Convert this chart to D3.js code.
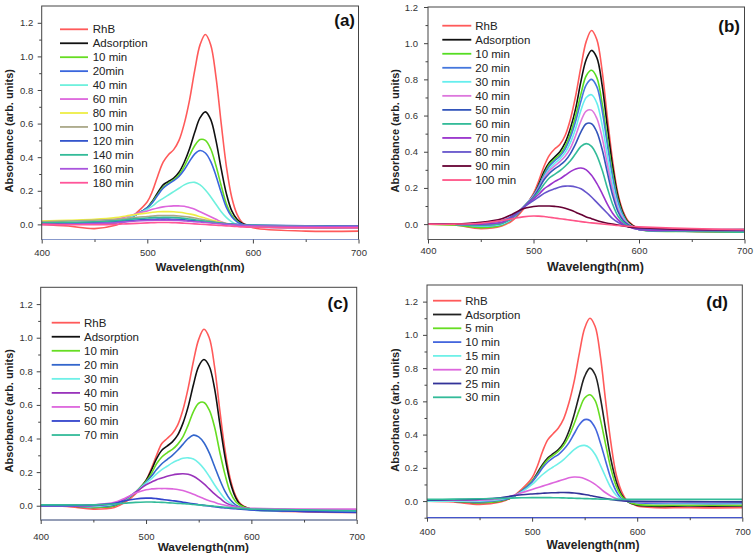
<!DOCTYPE html>
<html><head><meta charset="utf-8">
<script src="https://cdn.jsdelivr.net/npm/d3@7"></script>
<style>body{margin:0;background:#fff}svg{display:block}text{font-family:"Liberation Sans",Arial,sans-serif}</style>
</head><body><svg id="chart" width="756" height="560"></svg>
<script>
// Wavelength grid (nm)
const W = [400,425,450,470,480,490,500,505,510,515,520,525,530,535,540,545,550,555,560,565,570,575,580,585,590,600,650,700];
const xTicks = [400,500,600,700];
const xMinor = [450,550,650];
const yTicks = [0,0.2,0.4,0.6,0.8,1.0,1.2];
const yMinor = [-0.1,0.1,0.3,0.5,0.7,0.9,1.1];
const xTitle = "Wavelength(nm)";
const yTitle = "Absorbance (arb. units)";

// Panel (a)
const labelsA = ["RhB","Adsorption","10 min","20min","40 min","60 min","80 min","100 min","120 min","140 min","160 min","180 min"];
const seriesA = [
 [0.00,-0.01,-0.025,-0.005,0.02,0.07,0.135,0.20,0.29,0.37,0.415,0.445,0.50,0.60,0.74,0.92,1.07,1.13,1.07,0.88,0.60,0.34,0.16,0.06,0.01,-0.02,-0.04,-0.04],
 [0.005,0.005,0.005,0.01,0.03,0.06,0.10,0.14,0.19,0.235,0.255,0.275,0.31,0.37,0.45,0.55,0.635,0.67,0.625,0.50,0.33,0.18,0.08,0.03,0.005,-0.01,-0.02,-0.02],
 [0.005,0.005,0.005,0.01,0.03,0.06,0.10,0.135,0.18,0.22,0.245,0.265,0.295,0.345,0.41,0.47,0.505,0.50,0.45,0.35,0.23,0.12,0.055,0.02,0.0,-0.01,-0.015,-0.015],
 [0.005,0.005,0.005,0.01,0.03,0.06,0.10,0.13,0.175,0.215,0.24,0.26,0.285,0.325,0.375,0.42,0.44,0.425,0.375,0.29,0.19,0.10,0.045,0.015,0.0,-0.01,-0.015,-0.015],
 [0.005,0.005,0.01,0.02,0.035,0.06,0.09,0.11,0.135,0.155,0.175,0.195,0.215,0.235,0.248,0.25,0.235,0.205,0.165,0.12,0.075,0.04,0.015,0.0,-0.01,-0.015,-0.02,-0.02],
 [0.005,0.01,0.015,0.03,0.045,0.065,0.08,0.09,0.098,0.104,0.108,0.11,0.11,0.108,0.10,0.09,0.075,0.06,0.045,0.03,0.015,0.005,0.0,-0.005,-0.01,-0.015,-0.02,-0.02],
 [0.02,0.025,0.03,0.04,0.05,0.06,0.068,0.072,0.075,0.076,0.076,0.075,0.072,0.068,0.062,0.055,0.045,0.037,0.028,0.02,0.012,0.005,0.0,-0.003,-0.005,-0.008,-0.01,-0.01],
 [0.015,0.02,0.025,0.03,0.035,0.042,0.047,0.05,0.052,0.053,0.053,0.052,0.05,0.047,0.043,0.038,0.032,0.026,0.02,0.014,0.008,0.003,0.0,-0.003,-0.005,-0.008,-0.01,-0.01],
 [0.005,0.008,0.012,0.018,0.022,0.026,0.029,0.03,0.031,0.031,0.031,0.03,0.029,0.027,0.025,0.022,0.019,0.016,0.013,0.01,0.007,0.004,0.002,0.0,-0.002,-0.004,-0.008,-0.008],
 [0.01,0.012,0.016,0.022,0.028,0.034,0.038,0.04,0.041,0.042,0.042,0.041,0.039,0.036,0.032,0.028,0.023,0.018,0.014,0.01,0.006,0.002,0.0,-0.002,-0.004,-0.006,-0.01,-0.012],
 [0.0,0.0,0.005,0.01,0.015,0.02,0.023,0.024,0.025,0.025,0.025,0.024,0.023,0.021,0.019,0.016,0.014,0.011,0.008,0.005,0.003,0.0,-0.002,-0.004,-0.006,-0.008,-0.012,-0.012],
 [0.0,-0.002,-0.002,0.0,0.003,0.006,0.009,0.01,0.011,0.011,0.011,0.01,0.009,0.007,0.005,0.003,0.001,-0.001,-0.003,-0.005,-0.007,-0.009,-0.011,-0.013,-0.015,-0.017,-0.02,-0.02]
];
// Panel (b)
const labelsB = ["RhB","Adsorption","10 min","20 min","30 min","40 min","50 min","60 min","70 min","80 min","90 min","100 min"];
const seriesB = [
 [0.0,-0.005,-0.025,-0.01,0.02,0.08,0.17,0.24,0.32,0.38,0.415,0.44,0.49,0.58,0.71,0.87,1.01,1.07,1.02,0.85,0.59,0.35,0.17,0.07,0.015,-0.025,-0.04,-0.045],
 [0.0,0.0,-0.01,0.0,0.03,0.09,0.16,0.22,0.29,0.34,0.37,0.40,0.45,0.53,0.64,0.79,0.91,0.96,0.92,0.77,0.54,0.32,0.155,0.06,0.01,-0.025,-0.035,-0.04],
 [0.0,-0.005,-0.02,-0.005,0.03,0.09,0.16,0.21,0.275,0.33,0.36,0.385,0.43,0.50,0.60,0.72,0.82,0.85,0.81,0.67,0.47,0.28,0.135,0.05,0.005,-0.03,-0.04,-0.045],
 [0.0,0.0,-0.01,0.0,0.03,0.09,0.16,0.21,0.27,0.32,0.35,0.375,0.415,0.48,0.57,0.68,0.77,0.80,0.76,0.63,0.44,0.26,0.125,0.045,0.0,-0.03,-0.035,-0.035],
 [0.0,0.0,-0.01,0.0,0.03,0.09,0.155,0.20,0.26,0.305,0.335,0.36,0.395,0.45,0.53,0.63,0.70,0.715,0.67,0.55,0.38,0.22,0.10,0.035,0.0,-0.03,-0.035,-0.035],
 [0.0,0.0,-0.005,0.005,0.035,0.09,0.155,0.20,0.255,0.295,0.32,0.345,0.375,0.42,0.49,0.57,0.625,0.63,0.585,0.48,0.33,0.19,0.085,0.03,0.0,-0.03,-0.035,-0.035],
 [0.0,0.0,-0.005,0.005,0.035,0.09,0.15,0.195,0.245,0.28,0.305,0.325,0.35,0.39,0.445,0.51,0.555,0.555,0.51,0.415,0.285,0.16,0.07,0.02,-0.005,-0.03,-0.035,-0.035],
 [0.0,0.0,-0.005,0.005,0.035,0.09,0.145,0.18,0.22,0.255,0.275,0.295,0.32,0.35,0.39,0.43,0.445,0.43,0.38,0.30,0.20,0.11,0.045,0.01,-0.01,-0.03,-0.04,-0.045],
 [0.0,0.0,0.0,0.01,0.04,0.09,0.14,0.165,0.195,0.215,0.235,0.25,0.27,0.29,0.305,0.31,0.30,0.27,0.225,0.17,0.11,0.06,0.025,0.0,-0.015,-0.03,-0.035,-0.035],
 [0.0,0.0,0.005,0.02,0.045,0.09,0.13,0.15,0.17,0.185,0.195,0.205,0.21,0.21,0.205,0.195,0.175,0.15,0.12,0.09,0.06,0.03,0.01,-0.005,-0.015,-0.025,-0.03,-0.03],
 [0.0,0.0,0.01,0.03,0.055,0.085,0.097,0.1,0.1,0.1,0.098,0.095,0.088,0.078,0.066,0.053,0.04,0.03,0.02,0.012,0.005,0.0,-0.005,-0.01,-0.015,-0.02,-0.03,-0.03],
 [0.0,0.0,0.005,0.02,0.03,0.04,0.045,0.044,0.042,0.038,0.034,0.03,0.026,0.022,0.018,0.014,0.01,0.007,0.004,0.001,-0.002,-0.005,-0.008,-0.01,-0.012,-0.015,-0.025,-0.03]
];
// Panel (c)
const labelsC = ["RhB","Adsorption","10 min","20 min","30 min","40 min","50 min","60 min","70 min"];
const seriesC = [
 [0.0,-0.005,-0.02,-0.01,0.02,0.07,0.15,0.22,0.30,0.37,0.40,0.43,0.48,0.57,0.70,0.86,0.99,1.05,1.0,0.83,0.57,0.33,0.16,0.06,0.01,-0.02,-0.035,-0.04],
 [0.0,0.0,-0.01,0.0,0.03,0.08,0.15,0.21,0.28,0.33,0.355,0.38,0.42,0.49,0.59,0.72,0.83,0.87,0.83,0.70,0.49,0.29,0.14,0.05,0.005,-0.02,-0.03,-0.035],
 [0.0,0.0,-0.01,0.0,0.03,0.08,0.145,0.19,0.25,0.29,0.315,0.335,0.365,0.41,0.48,0.56,0.61,0.615,0.57,0.47,0.32,0.185,0.08,0.025,0.0,-0.02,-0.03,-0.03],
 [0.0,0.0,-0.005,0.005,0.035,0.08,0.14,0.175,0.215,0.25,0.275,0.30,0.33,0.365,0.40,0.42,0.41,0.375,0.315,0.235,0.155,0.085,0.035,0.005,-0.01,-0.025,-0.03,-0.035],
 [0.0,0.0,-0.005,0.01,0.035,0.08,0.135,0.16,0.19,0.215,0.235,0.255,0.27,0.282,0.285,0.278,0.255,0.22,0.175,0.125,0.08,0.04,0.015,-0.005,-0.015,-0.025,-0.03,-0.03],
 [0.0,0.0,0.0,0.015,0.04,0.08,0.125,0.14,0.155,0.165,0.175,0.183,0.188,0.19,0.187,0.175,0.155,0.13,0.10,0.07,0.045,0.02,0.005,-0.005,-0.012,-0.02,-0.025,-0.025],
 [0.0,0.0,0.005,0.02,0.045,0.075,0.095,0.1,0.102,0.102,0.102,0.10,0.097,0.09,0.08,0.068,0.055,0.042,0.03,0.02,0.01,0.003,-0.003,-0.008,-0.012,-0.015,-0.02,-0.02],
 [0.0,0.0,0.005,0.015,0.03,0.04,0.045,0.045,0.042,0.038,0.034,0.03,0.026,0.021,0.016,0.011,0.006,0.002,-0.002,-0.006,-0.01,-0.013,-0.016,-0.018,-0.02,-0.025,-0.035,-0.04],
 [0.005,0.005,0.005,0.01,0.015,0.02,0.022,0.022,0.021,0.02,0.018,0.016,0.014,0.012,0.01,0.007,0.005,0.002,0.0,-0.003,-0.006,-0.009,-0.012,-0.014,-0.016,-0.02,-0.025,-0.03]
];
// Panel (d)
const labelsD = ["RhB","Adsorption","5 min","10 min","15 min","20 min","25 min","30 min"];
const seriesD = [
 [0.0,-0.005,-0.02,-0.005,0.02,0.07,0.14,0.21,0.30,0.37,0.405,0.44,0.495,0.59,0.72,0.89,1.04,1.10,1.05,0.87,0.60,0.35,0.16,0.06,0.005,-0.03,-0.04,-0.04],
 [0.0,0.0,-0.01,0.0,0.02,0.06,0.12,0.17,0.22,0.26,0.285,0.31,0.35,0.42,0.52,0.64,0.75,0.80,0.76,0.62,0.43,0.25,0.12,0.04,0.0,-0.025,-0.03,-0.03],
 [0.0,0.0,-0.01,0.0,0.02,0.06,0.12,0.16,0.21,0.25,0.275,0.30,0.335,0.39,0.465,0.55,0.62,0.64,0.605,0.49,0.34,0.195,0.09,0.03,0.0,-0.02,-0.025,-0.025],
 [0.0,0.0,-0.005,0.005,0.02,0.06,0.115,0.155,0.20,0.235,0.26,0.28,0.31,0.35,0.405,0.46,0.49,0.485,0.44,0.35,0.24,0.135,0.06,0.015,0.0,-0.01,-0.015,-0.015],
 [0.0,0.0,0.0,0.01,0.025,0.055,0.10,0.13,0.16,0.185,0.205,0.225,0.25,0.28,0.31,0.33,0.335,0.32,0.28,0.215,0.145,0.08,0.035,0.01,0.0,-0.005,-0.01,-0.01],
 [0.005,0.005,0.005,0.015,0.03,0.05,0.07,0.08,0.09,0.10,0.11,0.12,0.13,0.14,0.145,0.143,0.135,0.12,0.10,0.075,0.05,0.03,0.015,0.005,0.0,-0.003,-0.005,-0.005],
 [0.005,0.008,0.012,0.02,0.03,0.038,0.043,0.045,0.047,0.049,0.05,0.051,0.052,0.051,0.049,0.045,0.04,0.034,0.028,0.021,0.015,0.01,0.005,0.002,0.0,-0.002,-0.003,-0.005],
 [0.01,0.012,0.014,0.016,0.018,0.02,0.021,0.021,0.021,0.021,0.02,0.02,0.019,0.018,0.017,0.016,0.015,0.014,0.013,0.012,0.011,0.01,0.01,0.01,0.01,0.01,0.01,0.01]
];

// Styles
const colorsA = ["#ff5a5a","#111111","#66dd22","#3a66dd","#6ff0dd","#dd66dd","#eeee44","#aaa888","#3355cc","#33bb99","#aa55dd","#ff5599"];
const colorsB = ["#ff5a5a","#111111","#55dd22","#4477dd","#66eeee","#dd77dd","#3355bb","#33bb99","#9933cc","#6655cc","#660033","#ff5588"];
const colorsC = ["#ff5a5a","#111111","#66dd22","#3366cc","#6ff0e8","#9933bb","#dd66dd","#3344cc","#33bb99"];
const colorsD = ["#ff5a5a","#222222","#66dd22","#4466dd","#6ff0e8","#dd66dd","#333399","#33bb99"];

const panels = [
 {tag:"(a)", labels:labelsA, series:seriesA, colors:colorsA, box:[41.7,6,358.5,239.5], ydom:[-0.09,1.30],
  xpad:5.7, ypad:4.4, tagPos:[355,26], leg:[60,88,92.7,29.3,13.95], xt:[200,270.7,11.5], yt:[9.3,130.8], bottomCol:"#8899cc"},
 {tag:"(b)", labels:labelsB, series:seriesB, colors:colorsB, box:[428,7,744.5,239.5], ydom:[-0.085,1.2],
  xpad:3.7, ypad:6, tagPos:[740,31.5], leg:[442.3,471.3,475.3,25.7,14.03], xt:[595.5,270.7,12.5], yt:[395.3,130.8], bottomCol:"#555"},
 {tag:"(c)", labels:labelsC, series:seriesC, colors:colorsC, box:[40.7,287.3,356.7,520], ydom:[-0.085,1.3],
  xpad:9.7, ypad:4, tagPos:[348.3,308.5], leg:[51.7,80,84,322.7,14.04], xt:[203.3,550.7,11.8], yt:[9.3,410.8], bottomCol:"#8899cc"},
 {tag:"(d)", labels:labelsD, series:seriesD, colors:colorsD, box:[427,285,742.3,517.7], ydom:[-0.1,1.3],
  xpad:6.3, ypad:5, tagPos:[728,307.5], leg:[433,461.3,465.3,300.7,13.8], xt:[593,549,12], yt:[394.7,410], bottomCol:"#4455cc"}
];

const svg = d3.select("#chart");
panels.forEach((p, pi) => {
  const [x0,y0,x1,y1] = p.box;
  const x = d3.scaleLinear().domain([400,700]).range([x0,x1]);
  const y = d3.scaleLinear().domain(p.ydom).range([y1,y0]);
  const g = svg.append("g");
  const cid = "clip" + pi;
  svg.append("defs").append("clipPath").attr("id", cid)
    .append("rect").attr("x", x0).attr("y", y0).attr("width", x1-x0).attr("height", y1-y0);

  const line = d3.line().x((d,i)=>x(W[i])).y(d=>y(d)).curve(d3.curveCatmullRom.alpha(0.5));
  const lines = g.append("g").attr("clip-path", `url(#${cid})`);
  p.series.forEach((s, si) => {
    lines.append("path").attr("d", line(s)).attr("fill","none")
      .attr("stroke", p.colors[si]).attr("stroke-width", 1.6);
  });

  // frame
  g.append("rect").attr("x",x0).attr("y",y0).attr("width",x1-x0).attr("height",y1-y0)
    .attr("fill","none").attr("stroke","#444").attr("stroke-width",1);
  g.append("line").attr("x1",x0).attr("x2",x1).attr("y1",y1).attr("y2",y1)
    .attr("stroke",p.bottomCol).attr("stroke-width",1.2);

  // axes
  g.append("g").attr("transform",`translate(0,${y1})`)
    .call(d3.axisBottom(x).tickValues(xTicks).tickSize(4).tickPadding(p.xpad).tickFormat(d3.format("d")));
  g.append("g").attr("transform",`translate(0,${y1})`)
    .call(d3.axisBottom(x).tickValues(xMinor).tickSize(2.5).tickFormat(""));
  g.append("g").attr("transform",`translate(${x0},0)`)
    .call(d3.axisLeft(y).tickValues(yTicks).tickSize(4).tickPadding(p.ypad).tickFormat(d3.format(".1f")));
  g.append("g").attr("transform",`translate(${x0},0)`)
    .call(d3.axisLeft(y).tickValues(yMinor.filter(v=>v>=p.ydom[0] && v<=p.ydom[1])).tickSize(2.5).tickFormat(""));
  g.selectAll(".domain").remove();
  g.selectAll(".tick line").attr("stroke","#444");
  g.selectAll(".tick text").attr("fill","#333").style("font-size","9.5px").style("font-family",'"Liberation Sans",Arial,sans-serif');

  // titles
  g.append("text").attr("x",p.xt[0]).attr("y",p.xt[1]).attr("text-anchor","middle")
    .style("font-size",p.xt[2]+"px").style("font-weight","bold").attr("fill","#222").text(xTitle);
  g.append("text").attr("transform",`translate(${p.yt[0]+4},${p.yt[1]}) rotate(-90)`).attr("text-anchor","middle")
    .style("font-size","11px").style("font-weight","bold").attr("fill","#222").text(yTitle);
  g.append("text").attr("x",p.tagPos[0]).attr("y",p.tagPos[1]).attr("text-anchor","end")
    .style("font-size","17px").style("font-weight","bold").attr("fill","#111").text(p.tag);

  // legend
  const [lx1,lx2,tx,ly,dy] = p.leg;
  p.labels.forEach((lab, i) => {
    const yy = ly + i*dy;
    g.append("line").attr("x1",lx1).attr("x2",lx2).attr("y1",yy).attr("y2",yy)
      .attr("stroke",p.colors[i]).attr("stroke-width",1.8);
    g.append("text").attr("x",tx).attr("y",yy+4).style("font-size","11.5px").attr("fill","#222").text(lab);
  });
});
</script></body></html>
